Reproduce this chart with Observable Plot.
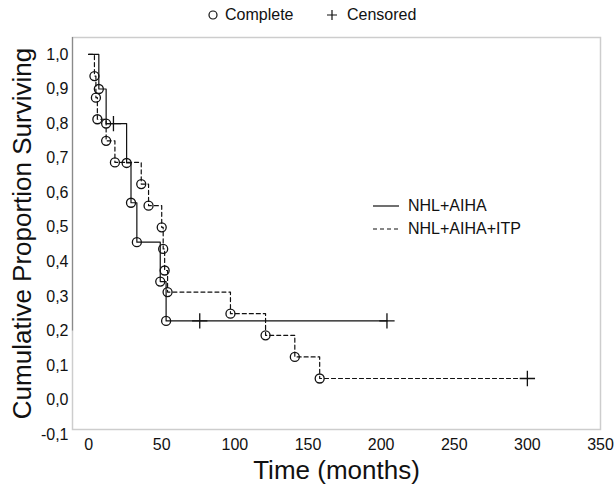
<!DOCTYPE html>
<html>
<head>
<meta charset="utf-8">
<script src="https://cdn.jsdelivr.net/npm/d3@7"></script>
<script src="https://cdn.jsdelivr.net/npm/@observablehq/plot@0.6"></script>
<style>
  body { margin: 0; background: #fff; font-family: "Liberation Sans", Arial, sans-serif; }
  #wrap { position: relative; width: 616px; height: 487px; }
  #top { height: 30px; position: relative; font-size: 16px; color: #111; }
  #top span { position: absolute; top: 6px; }
  #leg { position: absolute; left: 373px; top: 194px; font-size: 16px; color: #111; }
  #leg div { height: 23px; display: flex; align-items: center; }
</style>
</head>
<body>
<div id="wrap">
  <div id="top">
    <svg width="616" height="30" style="position:absolute;left:0;top:0">
      <circle cx="213" cy="15" r="4" fill="none" stroke="#111" stroke-width="1.2"></circle>
      <path d="M327,15h10M332,10v10" stroke="#111" stroke-width="1.2"></path>
    </svg>
    <span style="left:225px">Complete</span>
    <span style="left:347px">Censored</span>
  </div>
  <div id="chart"></div>
  <div id="leg">
    <div><svg width="35" height="10"><line x1="0" y1="5" x2="26" y2="5" stroke="#111" stroke-width="1.2"></line></svg>NHL+AIHA</div>
    <div><svg width="35" height="10"><line x1="0" y1="5" x2="26" y2="5" stroke="#111" stroke-width="1.2" stroke-dasharray="4,3"></line></svg>NHL+AIHA+ITP</div>
  </div>
</div>
<script>
// NHL+AIHA (solid)
const aihaEventTimes = [7, 12, 26, 29, 33, 49, 53];
const aihaEventSurv  = [0.9, 0.8, 0.686, 0.571, 0.457, 0.343, 0.229];
const aihaCensorTimes = [17, 76, 204];
const aihaCensorSurv  = [0.8, 0.229, 0.229];

// NHL+AIHA+ITP (dashed)
const itpEventTimes = [4, 5, 6, 12, 18, 36, 41, 50, 51, 52, 54, 97, 121, 141, 158];
const itpEventSurv  = [0.9375, 0.875, 0.8125, 0.75, 0.6875, 0.625, 0.5625, 0.5, 0.4375, 0.375, 0.3125, 0.25, 0.1875, 0.125, 0.0625];
const itpCensorTimes = [300];
const itpCensorSurv  = [0.0625];

const xTicks = [0, 50, 100, 150, 200, 250, 300, 350];
const yTicks = [-0.1, 0, 0.1, 0.2, 0.3, 0.4, 0.5, 0.6, 0.7, 0.8, 0.9, 1.0];
const xDomain = [-11, 350];
const yDomain = [-0.085, 1.049];

function events(times, surv) { return times.map((t, i) => ({t, s: surv[i]})); }
function steps(et, es, ct, cs) {
  const pts = [{t: 0, s: 1}].concat(events(et, es), events(ct, cs));
  return pts.sort((a, b) => a.t - b.t);
}

const aihaLine = steps(aihaEventTimes, aihaEventSurv, aihaCensorTimes, aihaCensorSurv);
const itpLine = steps(itpEventTimes, itpEventSurv, itpCensorTimes, itpCensorSurv);
const allEvents = events(aihaEventTimes, aihaEventSurv).concat(events(itpEventTimes, itpEventSurv));
const allCensors = events(aihaCensorTimes, aihaCensorSurv).concat(events(itpCensorTimes, itpCensorSurv));

const fmt = d => (Math.abs(d) < 1e-9 ? 0 : d).toFixed(1).replace(".", ",");

const chart = Plot.plot({
  width: 616,
  height: 457,
  marginLeft: 72,
  marginRight: 16,
  marginTop: 7,
  marginBottom: 58,
  style: {fontFamily: "Liberation Sans, Arial, sans-serif", color: "#111", overflow: "visible"},
  x: {domain: xDomain},
  y: {domain: yDomain},
  marks: [
    Plot.frame({stroke: "#cdcdcd", strokeWidth: 1.5}),
    Plot.ruleX([xDomain[0]], {y1: 0.2, y2: yDomain[1], stroke: "#8a8a8a", strokeWidth: 1.2}),
    Plot.axisX({ticks: xTicks, tickSize: 0, tickPadding: 9, fontSize: 16, label: null}),
    Plot.axisY({ticks: yTicks, tickSize: 0, tickPadding: 4, fontSize: 16, tickFormat: fmt, label: null}),
    Plot.text(["Cumulative Proportion Surviving"], {frameAnchor: "left", textAnchor: "middle", lineAnchor: "middle", rotate: -90, dx: -50, fontSize: 26, fill: "#111"}),
    Plot.text(["Time (months)"], {frameAnchor: "bottom", textAnchor: "middle", lineAnchor: "middle", dy: 41, fontSize: 26, fill: "#111"}),
    Plot.line(aihaLine, {x: "t", y: "s", curve: "step-after", stroke: "#111", strokeWidth: 1.2}),
    Plot.line(itpLine, {x: "t", y: "s", curve: "step-after", stroke: "#111", strokeWidth: 1.2, strokeDasharray: "4,3"}),
    Plot.dot(allEvents, {x: "t", y: "s", r: 4.5, stroke: "#111", fill: "none", strokeWidth: 1.3}),
    Plot.dot(allCensors, {x: "t", y: "s", symbol: "plus", r: 5, stroke: "#111", strokeWidth: 1.3})
  ]
});
document.getElementById("chart").appendChild(chart);
</script>
</body>
</html>
